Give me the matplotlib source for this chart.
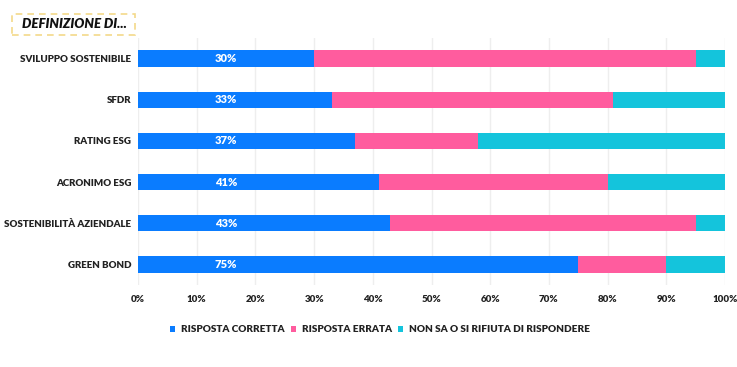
import matplotlib.pyplot as plt
from matplotlib.patches import FancyBboxPatch

categories = ["SVILUPPO SOSTENIBILE", "SFDR", "RATING ESG", "ACRONIMO ESG",
              "SOSTENIBILITÀ AZIENDALE", "GREEN BOND"]
corretta = [30, 33, 37, 41, 43, 75]
errata = [65, 48, 21, 39, 52, 15]
non_sa = [5, 19, 42, 20, 5, 10]
series_names = ["RISPOSTA CORRETTA", "RISPOSTA ERRATA", "NON SA O SI RIFIUTA DI RISPONDERE"]
colors = ["#0A7CFF", "#FF5C9E", "#14C4DC"]
xticks = list(range(0, 101, 10))

plt.rcParams['font.family'] = ['Lato', 'DejaVu Sans']

fig = plt.figure(figsize=(7.37, 3.67), dpi=100)
ax = fig.add_axes([138/737, 1-285/367, (725-138)/737, (285-38)/367])

y = list(range(len(categories)))
left = [0]*len(categories)
for vals, c, name in zip([corretta, errata, non_sa], colors, series_names):
    ax.barh(y, vals, left=left, height=0.4, color=c, label=name, zorder=3)
    left = [l+v for l, v in zip(left, vals)]

# value labels all sit at the same spot inside the blue segment
for yi, v in zip(y, corretta):
    ax.text(15, yi, f"{v}%", ha='center', va='center', color='white',
            fontsize=8, fontweight='heavy', zorder=4)

ax.set_ylim(len(categories)-0.5, -0.5)
ax.set_xlim(0, 100)
ax.set_yticks(y)
ax.set_yticklabels(categories, fontsize=7, fontweight='heavy', color='#222222')
ax.set_xticks(xticks)
ax.set_xticklabels([f"{t}%" for t in xticks], fontsize=7, fontweight='heavy', color='#222222')
ax.tick_params(length=0)
ax.tick_params(axis='x', pad=7)
ax.tick_params(axis='y', pad=5)
ax.grid(axis='x', color='#EEEEEE', linewidth=1, zorder=0)
for s in ax.spines.values():
    s.set_visible(False)

leg = fig.legend(loc='center', bbox_to_anchor=(380/737, 1-330/367), ncol=3, frameon=False,
                 fontsize=7.2, handlelength=0.5, handleheight=0.5, handletextpad=0.6,
                 columnspacing=0.6)
for t in leg.get_texts():
    t.set_fontweight('heavy')
    t.set_color('#222222')

box = FancyBboxPatch((12/737, 1-35/367), 123/737, 21/367, boxstyle='square,pad=0',
                     transform=fig.transFigure, fill=False, edgecolor='#F3D98A',
                     linestyle=(0, (4, 3)), linewidth=1.2)
fig.patches.append(box)
fig.text(22/737, 1-24.5/367, "DEFINIZIONE DI...", fontsize=9.5, fontweight='heavy',
         fontstyle='italic', va='center', color='#111111')

fig.savefig("out.png", dpi=100)
